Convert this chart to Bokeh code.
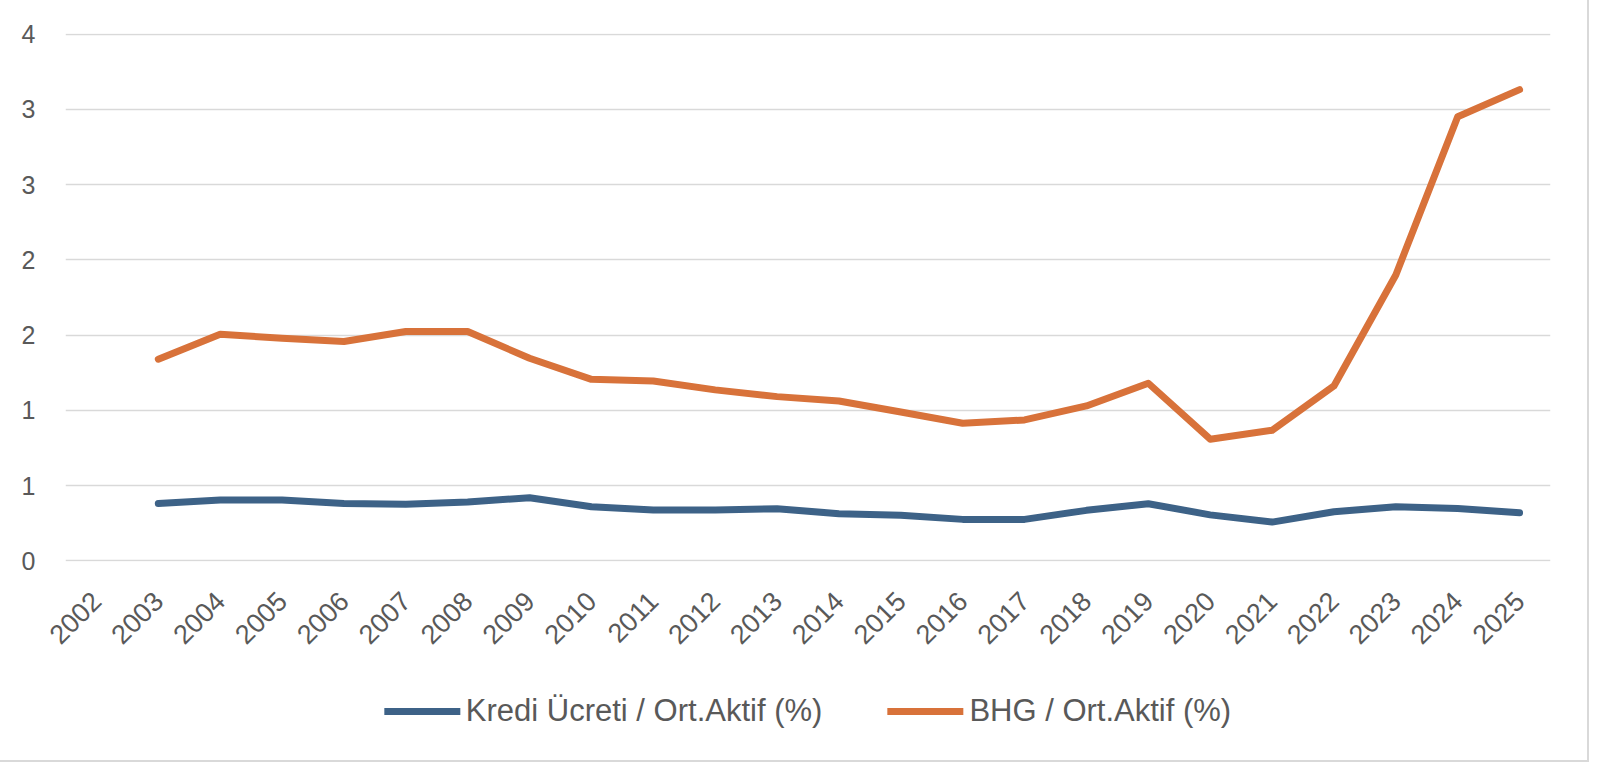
import math
from bokeh.plotting import figure
from bokeh.layouts import column
from bokeh.models import FactorRange, Range1d, FixedTicker, Legend, LegendItem, ColumnDataSource
from bokeh.embed import file_html
from bokeh.resources import INLINE

categories = ["2002", "2003", "2004", "2005", "2006", "2007", "2008", "2009",
              "2010", "2011", "2012", "2013", "2014", "2015", "2016", "2017",
              "2018", "2019", "2020", "2021", "2022", "2023", "2024", "2025"]
data_years = ["2003", "2004", "2005", "2006", "2007", "2008", "2009",
              "2010", "2011", "2012", "2013", "2014", "2015", "2016", "2017",
              "2018", "2019", "2020", "2021", "2022", "2023", "2024", "2025"]
kredi = [0.381, 0.404, 0.404, 0.381, 0.375, 0.390, 0.419, 0.359, 0.337, 0.337,
         0.346, 0.313, 0.302, 0.275, 0.275, 0.335, 0.379, 0.305, 0.257, 0.326,
         0.359, 0.348, 0.319]
bhg = [1.340, 1.506, 1.479, 1.457, 1.524, 1.524, 1.346, 1.206, 1.195, 1.136,
       1.091, 1.062, 0.989, 0.914, 0.936, 1.029, 1.180, 0.808, 0.867, 1.162,
       1.900, 2.952, 3.132]
y_ticks = [0.0, 0.5, 1.0, 1.5, 2.0, 2.5, 3.0, 3.5]
y_tick_labels = ["0", "1", "1", "2", "2", "3", "3", "4"]
series_names = ["Kredi Ücreti / Ort.Aktif (%)", "BHG / Ort.Aktif (%)"]
colors = ["#3D6287", "#D8723A"]

FONT = "Liberation Sans"
TXT = "#595959"

p = figure(width=1584, height=665,
           x_range=FactorRange(factors=categories, range_padding=0),
           y_range=Range1d(-0.005, 3.505),
           output_backend="svg", toolbar_location=None,
           min_border_left=65, min_border_right=34,
           min_border_top=33, min_border_bottom=104)
p.outline_line_color = None
p.background_fill_color = "white"
p.border_fill_color = "white"

src = ColumnDataSource(dict(x=data_years, kredi=kredi, bhg=bhg))
line_style = dict(line_width=7, line_cap="round", line_join="round")
r1 = p.line("x", "kredi", source=src, line_color=colors[0], **line_style)
r2 = p.line("x", "bhg", source=src, line_color=colors[1], **line_style)

# axes
p.xaxis.major_label_orientation = math.pi / 4
p.xaxis.major_label_text_font = FONT
p.xaxis.major_label_text_font_size = "27px"
p.xaxis.major_label_text_color = TXT
p.xaxis.axis_line_color = None
p.xaxis.major_tick_line_color = None
p.xaxis.minor_tick_line_color = None
p.xaxis.major_tick_out = 0
p.xaxis.major_tick_in = 0
p.xaxis.major_label_standoff = 35

p.yaxis.ticker = FixedTicker(ticks=y_ticks)
p.yaxis.major_label_overrides = dict(zip(y_ticks, y_tick_labels))
p.yaxis.major_label_text_font = FONT
p.yaxis.major_label_text_font_size = "25px"
p.yaxis.major_label_text_color = TXT
p.yaxis.axis_line_color = None
p.yaxis.major_tick_line_color = None
p.yaxis.minor_tick_line_color = None
p.yaxis.major_tick_out = 0
p.yaxis.major_tick_in = 0
p.yaxis.major_label_standoff = 30

p.xgrid.grid_line_color = None
p.ygrid.ticker = FixedTicker(ticks=y_ticks)
p.ygrid.grid_line_color = "#D9D9D9"
p.ygrid.grid_line_width = 1.5

# legend strip below the chart (same series, drawn outside its visible range)
lg = figure(width=1584, height=92, output_backend="svg", toolbar_location=None,
            x_axis_type=None, y_axis_type=None, min_border=0,
            x_range=FactorRange(factors=categories, range_padding=0),
            y_range=Range1d(100, 101))
lg.outline_line_color = None
lg.grid.grid_line_color = None
lg.background_fill_color = "white"
lg.border_fill_color = "white"
k1 = lg.line("x", "kredi", source=src, line_color=colors[0], **line_style)
k2 = lg.line("x", "bhg", source=src, line_color=colors[1], **line_style)

legend = Legend(items=[LegendItem(label=series_names[0], renderers=[k1]),
                       LegendItem(label=series_names[1], renderers=[k2])],
                orientation="horizontal", location="center",
                glyph_width=76, glyph_height=20, label_standoff=6, spacing=65,
                label_text_font=FONT, label_text_font_size="31px",
                label_text_color=TXT, border_line_color=None,
                background_fill_alpha=0, padding=0, margin=0)
lg.add_layout(legend, "center")

layout = column(p, lg, spacing=0)
layout.styles = {"outline": "2px solid #D9D9D9", "outline-offset": "3px"}

open("out.html", "w").write(file_html(layout, INLINE))
